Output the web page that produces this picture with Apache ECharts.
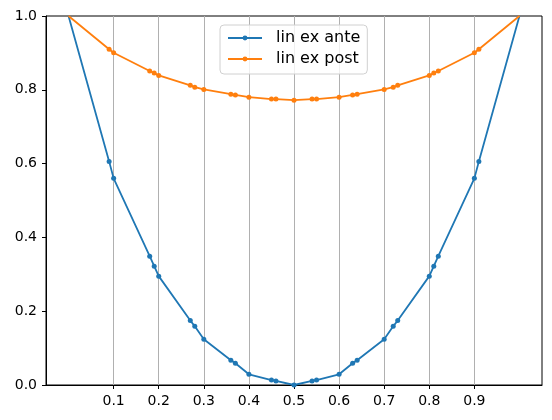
<!DOCTYPE html>
<html>
<head>
<meta charset="utf-8">
<script src="https://cdn.jsdelivr.net/npm/echarts@6/dist/echarts.min.js"></script>
<style>html,body{margin:0;padding:0;background:#fff}#c{width:552px;height:420px}</style>
</head>
<body>
<div id="c"></div>
<script>
const xValues = [0, 0.09, 0.1, 0.18, 0.19, 0.2, 0.27, 0.28, 0.3, 0.36, 0.37, 0.4, 0.45, 0.46, 0.5,
  0.54, 0.55, 0.6, 0.63, 0.64, 0.7, 0.72, 0.73, 0.8, 0.81, 0.82, 0.9, 0.91, 1.0];
const linExAnte = [1.0, 0.606, 0.56, 0.349, 0.322, 0.295, 0.175, 0.159, 0.124, 0.067, 0.059, 0.029, 0.0135, 0.011, 0.0,
  0.011, 0.0135, 0.029, 0.059, 0.067, 0.124, 0.159, 0.175, 0.295, 0.322, 0.349, 0.56, 0.606, 1.0];
const linExPost = [1.0, 0.910, 0.9005, 0.851, 0.8455, 0.839, 0.812, 0.807, 0.801, 0.788, 0.786, 0.780, 0.775, 0.775, 0.772,
  0.775, 0.775, 0.780, 0.786, 0.788, 0.801, 0.807, 0.812, 0.839, 0.8455, 0.851, 0.9005, 0.910, 1.0];
const xTicks = [0.1, 0.2, 0.3, 0.4, 0.5, 0.6, 0.7, 0.8, 0.9];
const yTicks = [0, 0.2, 0.4, 0.6, 0.8, 1.0];
const seriesNames = ['lin ex ante', 'lin ex post'];
const colors = ['#1f77b4', '#ff7f0e'];

function build(vals) {
  return xValues.map((x, i) => {
    const item = { value: [x, vals[i]] };
    if (i === 0 || i === xValues.length - 1) item.symbol = 'none';
    return item;
  });
}

const chart = echarts.init(document.getElementById('c'), null, { renderer: 'canvas' });
const font = 'DejaVu Sans';
chart.setOption({
  animation: false,
  color: colors,
  grid: { left: 46, right: 10, top: 16, bottom: 35, show: true, borderColor: '#000', borderWidth: 1, containLabel: false },
  legend: {
    orient: 'vertical', left: 220, top: 25,
    itemWidth: 34, itemHeight: 6, itemGap: 5,
    padding: [5, 7, 7, 7],
    borderColor: '#d0d0d0', borderWidth: 1, borderRadius: 4,
    backgroundColor: 'rgba(255,255,255,0.8)',
    textStyle: { fontFamily: font, fontSize: 16, color: '#000', padding: [0, 0, 0, 9] },
    data: seriesNames
  },
  xAxis: {
    type: 'value', min: -0.05, max: 1.05,
    axisLine: { show: true, onZero: false, lineStyle: { color: '#000', width: 1 } },
    axisTick: { show: true, customValues: xTicks, length: 4, inside: false, lineStyle: { color: '#000' } },
    axisLabel: { customValues: xTicks, fontFamily: font, fontSize: 14, color: '#000', margin: 9,
      formatter: v => v.toFixed(1) },
    splitLine: { show: true, lineStyle: { color: '#b0b0b0', width: 1 } }
  },
  yAxis: {
    type: 'value', min: 0, max: 1, interval: 0.2,
    axisLine: { show: true, onZero: false, lineStyle: { color: '#000', width: 1 } },
    axisTick: { show: true, length: 4, lineStyle: { color: '#000' } },
    axisLabel: { fontFamily: font, fontSize: 14, color: '#000', margin: 9,
      formatter: v => v.toFixed(1) },
    splitLine: { show: false }
  },
  series: [
    { name: seriesNames[0], type: 'line', data: build(linExAnte), symbol: 'circle', symbolSize: 5,
      showAllSymbol: true, lineStyle: { width: 1.8 }, clip: false, z: 3 },
    { name: seriesNames[1], type: 'line', data: build(linExPost), symbol: 'circle', symbolSize: 5,
      showAllSymbol: true, lineStyle: { width: 1.8 }, clip: false, z: 4 }
  ]
});
</script>
</body>
</html>
